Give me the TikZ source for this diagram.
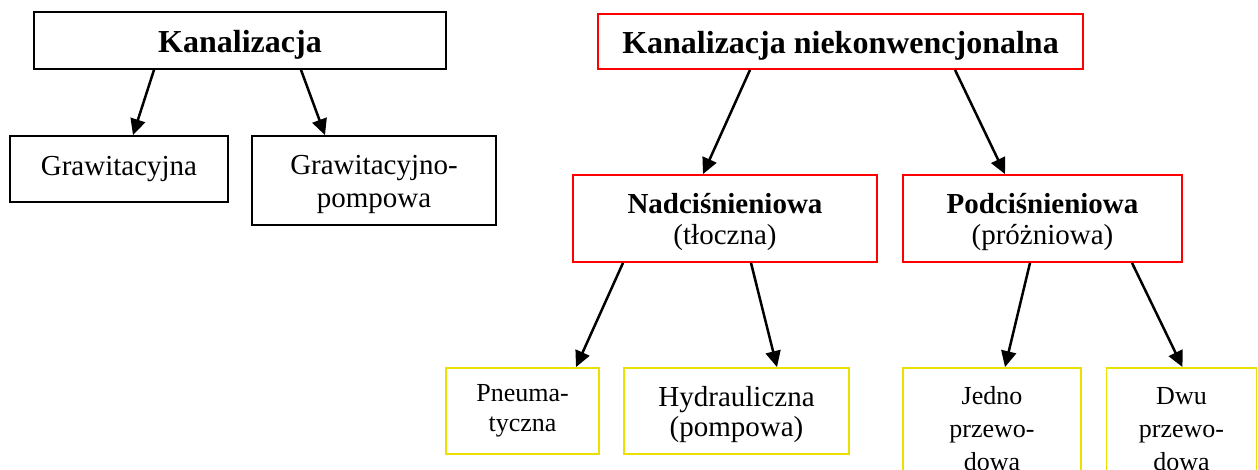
\documentclass[tikz,border=0pt]{standalone}
\usepackage{fontspec}
\setmainfont{Liberation Serif}
\usetikzlibrary{arrows.meta,positioning}
\definecolor{boxRed}{RGB}{255,0,0}
\definecolor{boxYellow}{RGB}{235,225,0}

\begin{document}
\begin{tikzpicture}[x=1pt, y=-1pt,
      box/.style={rectangle, draw=black, line width=1.8pt, inner sep=2pt,
                  align=center, font=\fontsize{29}{31}\selectfont},
      redbox/.style={box, draw=boxRed},
      yellowbox/.style={box, draw=boxYellow, font=\fontsize{26}{30}\selectfont},
      title/.style={font=\fontsize{32}{36}\selectfont\bfseries},
      arr/.style={-{Triangle[length=16pt,width=15pt]}, line width=2.5pt}]
      \useasboundingbox (0,0) rectangle (1258,470);
      % tradycyjna
      \node[box, title, text height=25pt, text depth=0pt, minimum width=412pt, minimum height=57pt] (kan) at (240,40.5) {Kanalizacja};
      \node[box, text height=13pt, text depth=0pt, minimum width=218pt, minimum height=66pt] (grav) at (119,169) {Grawitacyjna};
      \node[box, font=\fontsize{29}{33}\selectfont, text height=55pt, text depth=0pt, minimum width=244pt, minimum height=89pt] (gravp) at (374,180.5) {Grawitacyjno-\\pompowa};
      % niekonwencjonalna
      \node[redbox, title, text height=25pt, text depth=0pt, minimum width=485pt, minimum height=55pt] (niek) at (840.5,41.5) {Kanalizacja niekonwencjonalna};
      \node[redbox, text height=53pt, text depth=0pt, minimum width=304pt, minimum height=87pt] (nad) at (725,218.5) {{\bfseries Nadciśnieniowa}\\(tłoczna)};
      \node[redbox, text height=53pt, text depth=0pt, minimum width=279pt, minimum height=87pt] (pod) at (1042.5,218.5) {{\bfseries Podciśnieniowa}\\(próżniowa)};
      \node[yellowbox, text height=41pt, text depth=0pt, minimum width=153pt, minimum height=86pt] (pneu) at (522.5,411) {Pneuma-\\tyczna};
      \node[yellowbox, font=\fontsize{29}{30}\selectfont, text height=51pt, text depth=0pt, minimum width=225pt, minimum height=86pt] (hydr) at (736.5,411) {Hydrauliczna\\(pompowa)};
      \node[yellowbox, font=\fontsize{26}{33}\selectfont, text height=82pt, text depth=0pt, minimum width=178pt, minimum height=122pt] (jedno) at (992,429) {Jedno\\przewo-\\dowa};
      \node[yellowbox, font=\fontsize{26}{33}\selectfont, text height=82pt, text depth=0pt, minimum width=150pt, minimum height=122pt] (dwu) at (1181.5,429) {Dwu\\przewo-\\dowa};
      \draw[arr] ([xshift=-86pt]kan.south) -- ([xshift=14pt]grav.north);
      \draw[arr] ([xshift=61pt]kan.south) -- ([xshift=-49pt]gravp.north);
      \draw[arr] ([xshift=-90.5pt]niek.south) -- ([xshift=-22pt]nad.north);
      \draw[arr] ([xshift=114.5pt]niek.south) -- ([xshift=-37.5pt]pod.north);
      \draw[arr] ([xshift=-102pt]nad.south) -- ([xshift=53.5pt]pneu.north);
      \draw[arr] ([xshift=26pt]nad.south) -- ([xshift=40.5pt]hydr.north);
      \draw[arr] ([xshift=-12.5pt]pod.south) -- ([xshift=13pt]jedno.north);
      \draw[arr] ([xshift=89.5pt]pod.south) -- ([xshift=1pt]dwu.north);
    \end{tikzpicture}
\end{document}
